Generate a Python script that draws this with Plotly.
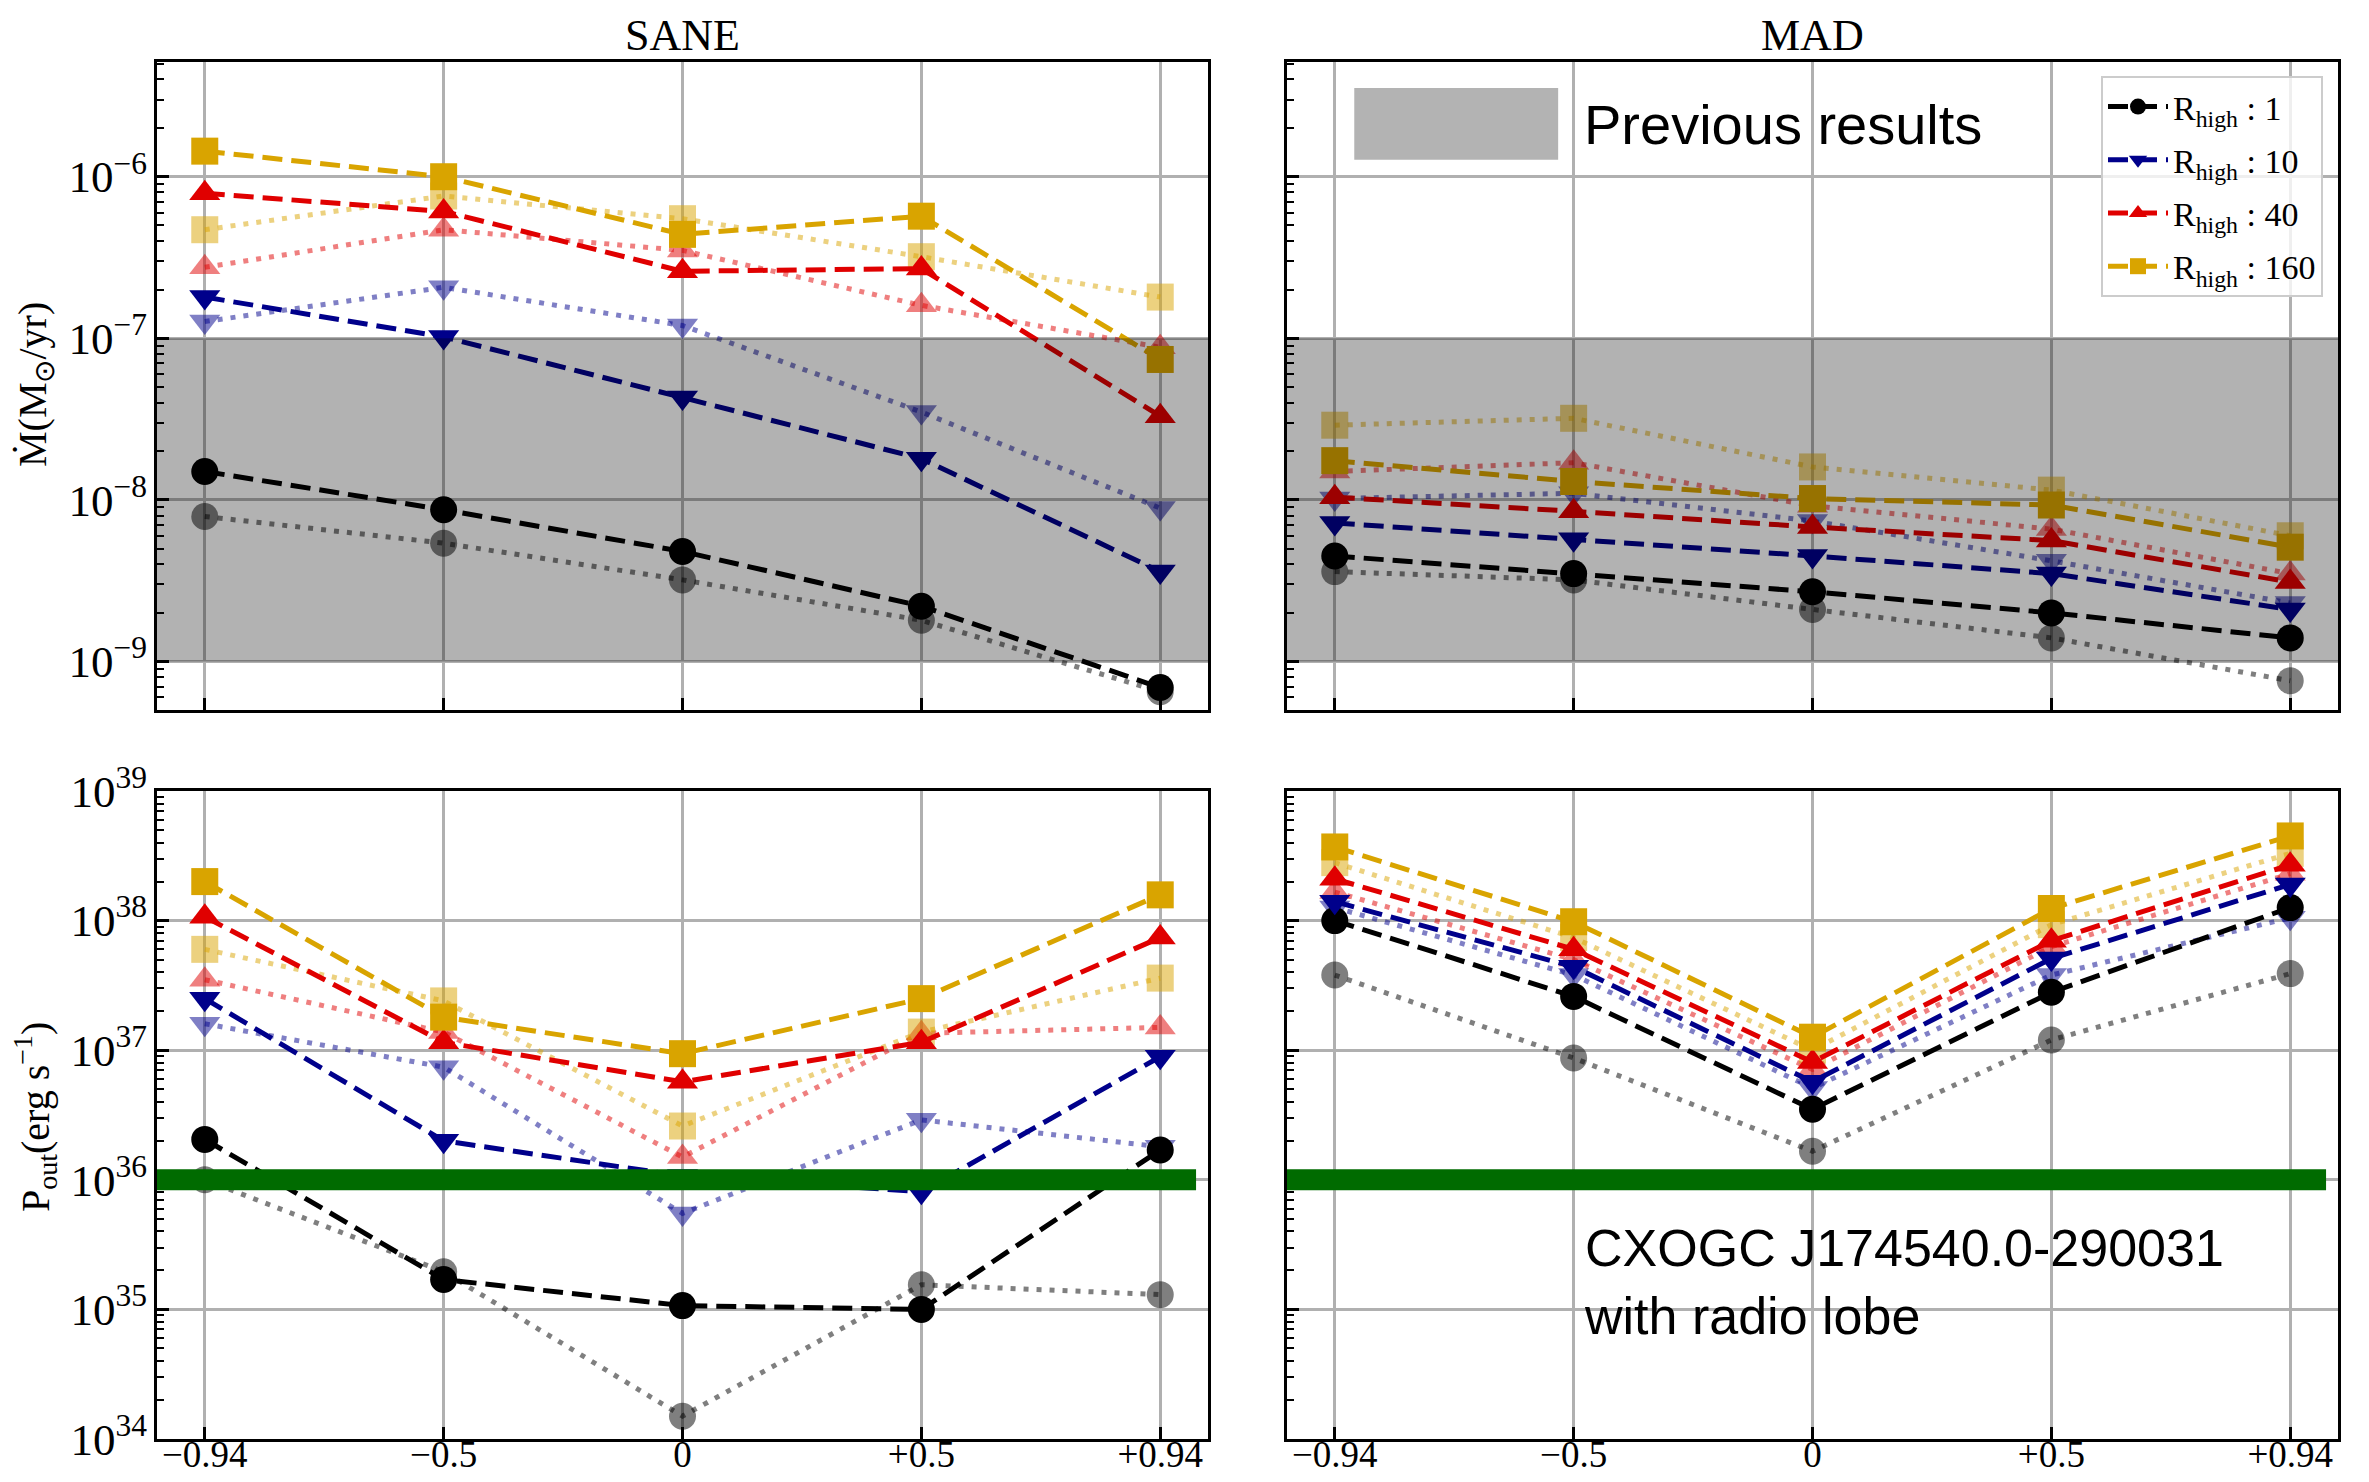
import plotly.graph_objects as go
from plotly.subplots import make_subplots

# spin values on the x axis
spins = ["\u22120.94", "\u22120.5", "0", "+0.5", "+0.94"]
rhigh = [1, 10, 40, 160]
colors = ["#000000", "#00008b", "#e00000", "#d9a400"]
faded = ["rgba(0,0,0,0.5)", "rgba(0,0,139,0.5)", "rgba(224,0,0,0.5)", "rgba(217,164,0,0.5)"]
symbols = ["circle", "triangle-down", "triangle-up", "square"]

# accretion rate (Msun/yr), rows = Rhigh 1, 10, 40, 160
mdot_sane_dashed = [
    [1.5e-8, 8.7e-9, 4.8e-9, 2.2e-9, 6.9e-10],
    [1.8e-7, 1.02e-7, 4.3e-8, 1.8e-8, 3.6e-9],
    [7.9e-7, 6.1e-7, 2.6e-7, 2.7e-7, 3.3e-8],
    [1.44e-6, 1.0e-6, 4.4e-7, 5.7e-7, 7.4e-8],
]
mdot_sane_dotted = [
    [7.9e-9, 5.4e-9, 3.2e-9, 1.8e-9, 6.5e-10],
    [1.27e-7, 2.07e-7, 1.2e-7, 3.5e-8, 8.9e-9],
    [2.75e-7, 4.7e-7, 3.5e-7, 1.6e-7, 8.8e-8],
    [4.7e-7, 7.6e-7, 5.5e-7, 3.2e-7, 1.8e-7],
]
mdot_mad_dashed = [
    [4.5e-9, 3.5e-9, 2.7e-9, 2.0e-9, 1.4e-9],
    [7.2e-9, 5.7e-9, 4.5e-9, 3.5e-9, 2.1e-9],
    [1.04e-8, 8.5e-9, 6.8e-9, 5.6e-9, 3.1e-9],
    [1.75e-8, 1.3e-8, 1.02e-8, 9.3e-9, 5.1e-9],
]
mdot_mad_dotted = [
    [3.6e-9, 3.2e-9, 2.1e-9, 1.4e-9, 7.6e-10],
    [1.02e-8, 1.1e-8, 7.4e-9, 4.2e-9, 2.3e-9],
    [1.5e-8, 1.7e-8, 9.2e-9, 6.6e-9, 3.5e-9],
    [2.9e-8, 3.2e-8, 1.6e-8, 1.15e-8, 6.0e-9],
]

# outflow power (erg/s)
pout_sane_dashed = [
    [2.05e36, 1.7e35, 1.07e35, 1.0e35, 1.7e36],
    [2.5e37, 2.0e36, 1.07e36, 8.1e35, 8.9e36],
    [1.07e38, 1.15e37, 5.7e36, 1.15e37, 7.4e37],
    [2.0e38, 1.8e37, 9.4e36, 2.5e37, 1.58e38],
]
pout_sane_dotted = [
    [1.0e36, 1.95e35, 1.5e34, 1.55e35, 1.3e35],
    [1.6e37, 7.4e36, 5.5e35, 2.9e36, 1.8e36],
    [3.5e37, 1.38e37, 1.5e36, 1.35e37, 1.5e37],
    [6.0e37, 2.4e37, 2.6e36, 1.38e37, 3.6e37],
]
pout_mad_dashed = [
    [1.0e38, 2.6e37, 3.5e36, 2.8e37, 1.26e38],
    [1.4e38, 4.4e37, 5.7e36, 5.1e37, 1.9e38],
    [2.1e38, 6.0e37, 8.1e36, 7.0e37, 2.7e38],
    [3.7e38, 9.8e37, 1.26e37, 1.24e38, 4.5e38],
]
pout_mad_dotted = [
    [3.8e37, 8.7e36, 1.66e36, 1.2e37, 3.9e37],
    [1.26e38, 3.8e37, 5.1e36, 3.8e37, 1.05e38],
    [1.66e38, 5.0e37, 7.1e36, 6.3e37, 2.3e38],
    [2.8e38, 7.4e37, 1.0e37, 9.3e37, 3.3e38],
]

prev_band = [1e-9, 1e-7]
lobe_power = 1e36

serif = "Liberation Serif"
sans = "Liberation Sans"
xpos = list(range(len(spins)))

# page body has an 8px margin, so the figure is a bit smaller than the window
W, H = 2353, 1466


def px(x):
    return (x - 8) / W


def py(y):
    return 1 - (y - 8) / H


fig = make_subplots(rows=2, cols=2)

panels = [
    (1, 1, mdot_sane_dashed, mdot_sane_dotted),
    (1, 2, mdot_mad_dashed, mdot_mad_dotted),
    (2, 1, pout_sane_dashed, pout_sane_dotted),
    (2, 2, pout_mad_dashed, pout_mad_dotted),
]
for r, c, dashed, dotted in panels:
    for i in range(4):
        fig.add_trace(go.Scatter(
            x=xpos, y=dotted[i], mode="lines+markers", showlegend=False,
            line=dict(color=faded[i], width=5, dash="5px,8px"),
            marker=dict(symbol=symbols[i], size=27, color=colors[i], opacity=0.5),
        ), row=r, col=c)
    for i in range(4):
        fig.add_trace(go.Scatter(
            x=xpos, y=dashed[i], mode="lines+markers",
            name="R<sub>high</sub> : %d" % rhigh[i],
            legendgroup="g%d" % i,
            showlegend=(r == 1 and c == 2),
            line=dict(color=colors[i], width=5, dash="20px,9px"),
            marker=dict(symbol=symbols[i], size=27, color=colors[i]),
        ), row=r, col=c)

xdom = [[px(157), px(1208)], [px(1287), px(2338)]]
ydom = [[py(710), py(62)], [py(1439), py(791)]]

axcommon = dict(showline=True, mirror=True, linecolor="black", linewidth=2.5,
                showgrid=True, gridcolor="#b0b0b0", gridwidth=3, automargin=False,
                ticks="inside", tickcolor="black", tickwidth=2.5, zeroline=False)

for r in (1, 2):
    for c in (1, 2):
        fig.update_xaxes(
            domain=xdom[c - 1], range=[-0.2, 4.2], tickmode="array",
            tickvals=xpos, ticktext=spins, ticklen=12, ticklabelstandoff=-19,
            showticklabels=(r == 2),
            tickfont=dict(family=serif, size=37, color="black"),
            row=r, col=c, **axcommon)
        fig.update_yaxes(
            domain=ydom[r - 1], type="log",
            range=[-9.3, -5.29] if r == 1 else [34, 39],
            dtick=1, exponentformat="power", showexponent="all", ticklen=12,
            minor=dict(ticks="inside", ticklen=7, tickcolor="black", tickwidth=2,
                       dtick="D1", showgrid=False),
            showticklabels=(c == 1),
            tickfont=dict(family=serif, size=36, color="black"),
            row=r, col=c, **axcommon)

# previous results band (top row) and radio lobe power (bottom row)
for xr, yr in (("x", "y"), ("x2", "y2")):
    fig.add_shape(type="rect", xref=xr + " domain", yref=yr, x0=0, x1=1,
                  y0=prev_band[0], y1=prev_band[1], line_width=0,
                  fillcolor="rgba(0,0,0,0.3)", layer="above")
for xr, yr in (("x3", "y3"), ("x4", "y4")):
    fig.add_shape(type="line", xref=xr, yref=yr, x0=-0.2, x1=4.15,
                  y0=lobe_power, y1=lobe_power,
                  line=dict(color="#006b00", width=21), layer="above")

# "Previous results" key
fig.add_shape(type="rect", xref="x2 domain", yref="y2 domain",
              x0=0.064, x1=0.258, y0=0.849, y1=0.960,
              fillcolor="#b3b3b3", line_width=0, layer="above")
fig.add_annotation(xref="x2 domain", yref="y2 domain", x=0.281, y=0.903,
                   text="Previous results", showarrow=False, xanchor="left",
                   yanchor="middle", font=dict(family=sans, size=56, color="black"))
fig.add_annotation(xref="x4 domain", yref="y4 domain", x=0.281, y=0.243,
                   text="CXOGC J174540.0-290031<br>with radio lobe", showarrow=False,
                   xanchor="left", yanchor="middle", align="left",
                   font=dict(family=sans, size=52, color="black"))

# column titles and y labels
for txt, xc in (("SANE", px(682.5)), ("MAD", px(1812.5))):
    fig.add_annotation(xref="paper", yref="paper", x=xc, y=py(36),
                       text=txt, showarrow=False, xanchor="center", yanchor="middle",
                       font=dict(family=serif, size=44, color="black"))
fig.add_annotation(xref="paper", yref="paper", x=px(35), y=py(385),
                   text="\u1E40(M<sub>\u2299</sub>/yr)", textangle=-90, showarrow=False,
                   xanchor="center", yanchor="middle",
                   font=dict(family=serif, size=40, color="black"))
fig.add_annotation(xref="paper", yref="paper", x=px(35), y=py(1117),
                   text="P<sub>out</sub>(erg s<sup>\u22121</sup>)", textangle=-90,
                   xanchor="center", yanchor="middle",
                   showarrow=False, font=dict(family=serif, size=40, color="black"))

fig.update_layout(
    width=W, height=H,
    margin=dict(l=0, r=0, t=0, b=0, autoexpand=False),
    paper_bgcolor="white", plot_bgcolor="white",
    font=dict(family=serif, color="black"),
    legend=dict(x=px(2323), xanchor="right", y=py(76), yanchor="top",
                bgcolor="rgba(255,255,255,0.8)", bordercolor="#cccccc", borderwidth=2,
                font=dict(family=serif, size=34, color="black"),
                traceorder="grouped", tracegroupgap=6, itemwidth=60),
)

fig.write_html("out.html")
